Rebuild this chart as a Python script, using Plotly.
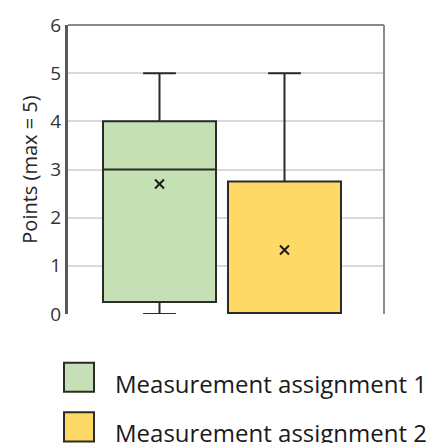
import plotly.graph_objects as go

# Box statistics
series = ["Measurement assignment 1", "Measurement assignment 2"]
positions = [0, 1]
lower = [0, 0]
q1 = [0.25, 0]
median = [3, 0]
q3 = [4, 2.75]
upper = [5, 5]
means = [2.7, 1.33]
fills = ["#C5E0B4", "#FFD966"]

W, H = 436, 443
L, R, T, B = 68, 384, 17, 314  # plot area in pixels


def px_x(x):
    return (x - L) / (R - L)


def px_y(y):
    return (B - y) / (B - T)


fig = go.Figure()

for name, p, lo, a, m, b, hi, c in zip(series, positions, lower, q1, median, q3, upper, fills):
    fig.add_trace(go.Box(
        name=name, x=[p], lowerfence=[lo], q1=[a], median=[m], q3=[b], upperfence=[hi],
        fillcolor=c, line=dict(color="#2b2b2b", width=2),
        width=0.904, whiskerwidth=0.29, boxpoints=False, showlegend=False,
        hoverinfo="skip",
    ))

fig.add_trace(go.Scatter(
    x=positions, y=means, mode="markers", showlegend=False, hoverinfo="skip",
    marker=dict(symbol="x-thin", size=9, line=dict(color="#1a1a1a", width=2)),
))

# top and right border
shapes = [
    dict(type="line", xref="paper", yref="paper", x0=0, x1=1, y0=1, y1=1,
         line=dict(color="#8a8a8a", width=2)),
    dict(type="line", xref="paper", yref="paper", x0=1, x1=1, y0=0, y1=1,
         line=dict(color="#8a8a8a", width=2)),
]

# custom legend below the chart
annotations = []
for i, (name, c) in enumerate(zip(series, fills)):
    top = 364 + i * 51
    shapes.append(dict(type="rect", xref="paper", yref="paper",
                       x0=px_x(64), x1=px_x(94), y0=px_y(top), y1=px_y(top + 30),
                       fillcolor=c, line=dict(color="#2b2b2b", width=2)))
    annotations.append(dict(xref="paper", yref="paper", x=px_x(113), y=px_y(top + 21),
                            text=name, showarrow=False, xanchor="left", yanchor="middle",
                            font=dict(size=24, color="#1a1a1a")))

fig.update_layout(
    width=W, height=H,
    margin=dict(l=L, r=W - R, t=T, b=H - B),
    paper_bgcolor="white", plot_bgcolor="white",
    font=dict(family="Open Sans", color="#404040"),
    shapes=shapes, annotations=annotations,
    xaxis=dict(range=[-0.732, 1.796], showticklabels=False, showgrid=False,
               zeroline=False, showline=False),
    yaxis=dict(range=[0, 6], dtick=1, showgrid=True, gridcolor="#d9d9d9", gridwidth=2,
               zeroline=False, showline=True, linecolor="#595959", linewidth=3,
               ticks="", tickfont=dict(size=19, color="#333333"),
               title=dict(text="Points (max = 5)", font=dict(size=20, color="#262626"),
                          standoff=8)),
)

fig.write_html("out.html", config={"displayModeBar": False},
               post_script="document.body.style.margin='0';document.body.style.overflow='hidden';")
